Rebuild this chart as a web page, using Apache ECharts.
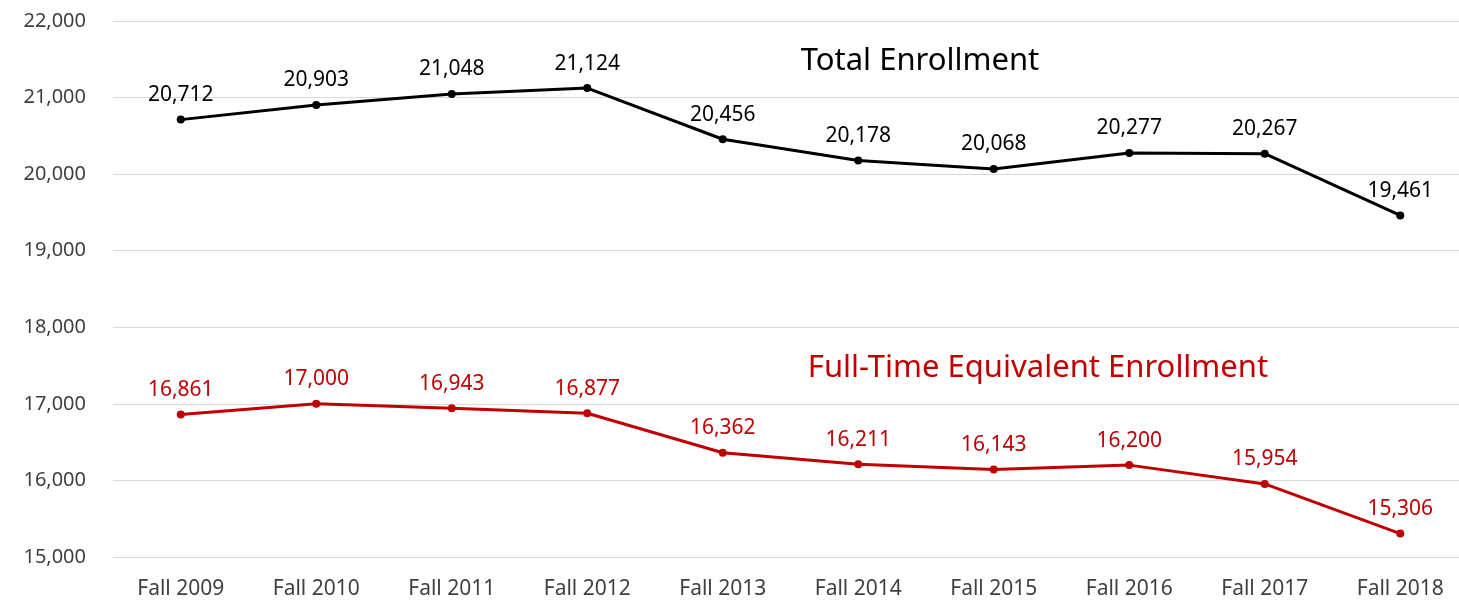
<!DOCTYPE html>
<html><head><meta charset="utf-8">
<script src="https://cdn.jsdelivr.net/npm/echarts@6/dist/echarts.min.js"></script>
<style>html,body{margin:0;padding:0;background:#fff;overflow:hidden}#c{width:1470px;height:603px}</style>
</head><body><div id="c"></div>
<script>
const categories = ["Fall 2009","Fall 2010","Fall 2011","Fall 2012","Fall 2013","Fall 2014","Fall 2015","Fall 2016","Fall 2017","Fall 2018"];
const totalEnrollment = [20712,20903,21048,21124,20456,20178,20068,20277,20267,19461];
const fteEnrollment = [16861,17000,16943,16877,16362,16211,16143,16200,15954,15306];
const yTicks = {min:15000, max:22000, interval:1000};

const font = '"Noto Sans", "Open Sans", sans-serif';
const fmt = v => v.toLocaleString('en-US');
const chart = echarts.init(document.getElementById('c'), null, {renderer:'canvas'});
chart.setOption({
  animation:false,
  backgroundColor:'#fff',
  grid:{left:113, top:21, width:1355, height:536, containLabel:false},
  xAxis:{type:'category', data:categories, boundaryGap:true,
    axisLine:{show:false}, axisTick:{show:false},
    axisLabel:{color:'#404040', fontSize:21, fontFamily:font, margin:22}},
  yAxis:{type:'value', min:yTicks.min, max:yTicks.max, interval:yTicks.interval,
    axisLine:{show:false}, axisTick:{show:false},
    splitLine:{lineStyle:{color:'#d9d9d9', width:1}},
    axisLabel:{color:'#404040', fontSize:20, fontFamily:font, margin:27, formatter:v=>fmt(v)}},
  series:[
    {name:'Total Enrollment', type:'line', data:totalEnrollment, symbol:'circle', symbolSize:8,
      lineStyle:{color:'#000', width:3}, itemStyle:{color:'#000'},
      label:{show:true, position:'top', distance:10, color:'#000', fontSize:21, fontFamily:font, formatter:p=>fmt(p.value)}},
    {name:'Full-Time Equivalent Enrollment', type:'line', data:fteEnrollment, symbol:'circle', symbolSize:8,
      lineStyle:{color:'#c00000', width:3}, itemStyle:{color:'#c00000'},
      label:{show:true, position:'top', distance:10, color:'#c00000', fontSize:21, fontFamily:font, formatter:p=>fmt(p.value)}}
  ],
  graphic:[
    {type:'text', style:{text:'Total Enrollment', x:920, y:61, align:'center', verticalAlign:'middle', fontSize:31, fontFamily:font, fill:'#000'}},
    {type:'text', style:{text:'Full-Time Equivalent Enrollment', x:1038, y:368, align:'center', verticalAlign:'middle', fontSize:31, fontFamily:font, fill:'#c00000'}}
  ]
});
</script></body></html>
